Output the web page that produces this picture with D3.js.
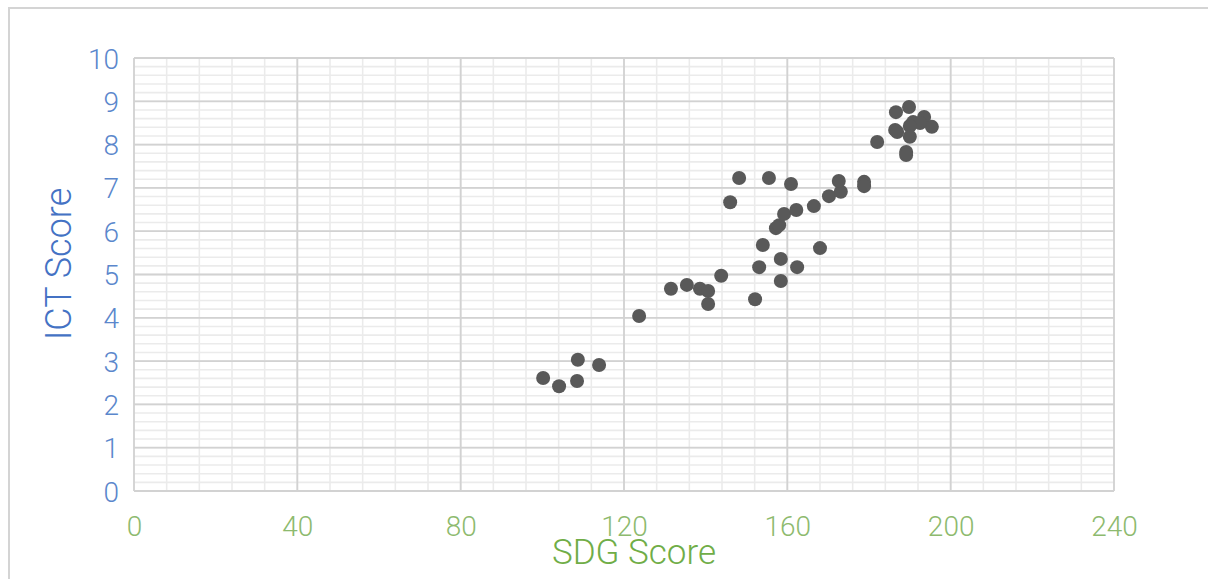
<!DOCTYPE html>
<html>
<head>
<meta charset="utf-8">
<script src="https://cdn.jsdelivr.net/npm/d3@7"></script>
<style>
  body { margin: 0; background: #fff; }
  svg text { font-family: Roboto, "Liberation Sans", sans-serif; font-weight: 300; }
</style>
</head>
<body>
<svg id="drawing_region"></svg>
<script>
// SDG score vs ICT score
const sdgScores = [100.2, 104.1, 108.7, 108.5, 113.9, 123.7, 131.5, 135.4, 138.6, 140.6,
                   140.6, 143.8, 152.1, 153.1, 154.0, 158.4, 158.4, 162.4, 168.0, 146.0,
                   148.2, 155.5, 160.9, 157.2, 158.0, 159.2, 162.2, 166.5, 170.2, 173.1,
                   172.6, 178.8, 178.8, 182.0, 189.1, 189.1, 186.6, 189.8, 193.5, 195.4,
                   190.8, 192.5, 186.4, 186.9, 190.0, 190.0];
const ictScores = [2.61, 2.42, 3.03, 2.54, 2.91, 4.04, 4.67, 4.76, 4.67, 4.62,
                   4.32, 4.97, 4.43, 5.17, 5.68, 5.36, 4.85, 5.17, 5.61, 6.67,
                   7.23, 7.23, 7.09, 6.07, 6.14, 6.40, 6.49, 6.58, 6.81, 6.91,
                   7.16, 7.14, 7.04, 8.06, 7.83, 7.76, 8.75, 8.87, 8.64, 8.41,
                   8.52, 8.50, 8.34, 8.29, 8.43, 8.18];
const xTicks = [0, 40, 80, 120, 160, 200, 240];
const yTicks = [0, 1, 2, 3, 4, 5, 6, 7, 8, 9, 10];

const data = sdgScores.map((v, i) => ({ sdg: v, ict: ictScores[i] }));

const width = 1208, height = 579;
const margin = { top: 58, right: 95, bottom: 88, left: 134 };

const svg = d3.select('#drawing_region')
    .attr('width', width)
    .attr('height', height);

// outer chart frame
svg.append('rect')
    .attr('x', 9).attr('y', 8)
    .attr('width', 1220).attr('height', 600)
    .attr('fill', 'none')
    .attr('stroke', '#d4d4d4')
    .attr('stroke-width', 2);

const xScale = d3.scaleLinear()
    .domain([0, 240])
    .range([margin.left, width - margin.right + 1]);
const yScale = d3.scaleLinear()
    .domain([0, 10])
    .range([height - margin.bottom, margin.top]);

const grid = svg.append('g');

// minor grid
const xMinor = d3.range(0, 241, 8);
const yMinor = d3.range(0, 10.01, 0.2);
grid.selectAll('.xminor').data(xMinor).enter().append('line')
    .attr('x1', d => xScale(d)).attr('x2', d => xScale(d))
    .attr('y1', yScale(0)).attr('y2', yScale(10))
    .attr('stroke', '#ebebeb').attr('stroke-width', 1.6);
grid.selectAll('.yminor').data(yMinor).enter().append('line')
    .attr('x1', xScale(0)).attr('x2', xScale(240))
    .attr('y1', d => yScale(d)).attr('y2', d => yScale(d))
    .attr('stroke', '#ebebeb').attr('stroke-width', 1.6);

// major grid
grid.selectAll('.xmajor').data(xTicks).enter().append('line')
    .attr('x1', d => xScale(d)).attr('x2', d => xScale(d))
    .attr('y1', yScale(0)).attr('y2', yScale(10))
    .attr('stroke', '#d2d2d2').attr('stroke-width', 1.8);
grid.selectAll('.ymajor').data(yTicks).enter().append('line')
    .attr('x1', xScale(0)).attr('x2', xScale(240))
    .attr('y1', d => yScale(d)).attr('y2', d => yScale(d))
    .attr('stroke', '#d2d2d2').attr('stroke-width', 1.8);

// axes (labels only)
const xAxis = svg.append('g')
    .attr('transform', `translate(0, ${yScale(0) + 25})`)
    .call(d3.axisBottom(xScale).tickValues(xTicks).tickSize(0).tickPadding(0));
xAxis.select('.domain').remove();
xAxis.selectAll('text')
    .attr('fill', '#8dba6e')
    .style('font-size', '28px')
    .attr('dy', '0.71em');

const yAxis = svg.append('g')
    .attr('transform', `translate(${xScale(0) - 15}, 0)`)
    .call(d3.axisLeft(yScale).tickValues(yTicks).tickSize(0).tickPadding(0));
yAxis.select('.domain').remove();
yAxis.selectAll('text')
    .attr('fill', '#5b87cc')
    .style('font-size', '28px')
    .attr('dy', '0.36em');

// points
svg.append('g').selectAll('circle')
    .data(data)
    .enter()
    .append('circle')
    .attr('cx', d => xScale(d.sdg))
    .attr('cy', d => yScale(d.ict))
    .attr('r', 7)
    .attr('fill', '#595959');

// axis titles
svg.append('text')
    .attr('x', 634)
    .attr('y', 564)
    .attr('text-anchor', 'middle')
    .attr('fill', '#70ad47')
    .style('font-size', '35px')
    .text('SDG Score');

svg.append('text')
    .attr('transform', `translate(71, ${264}) rotate(-90)`)
    .attr('text-anchor', 'middle')
    .attr('fill', '#4472c4')
    .style('font-size', '36px')
    .text('ICT Score');
</script>
</body>
</html>
